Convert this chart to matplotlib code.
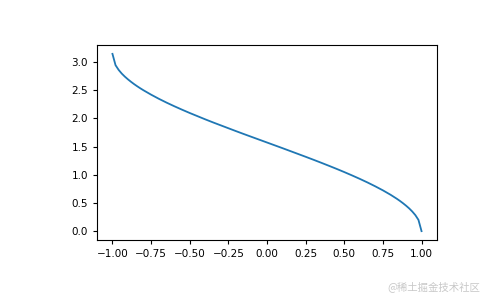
import matplotlib
matplotlib.use("Agg")
import matplotlib.pyplot as plt

# Values
x_vals = [-1.00, -0.98, -0.96, -0.94, -0.92, -0.90, -0.88, -0.86, -0.84, -0.82, -0.80,
          -0.75, -0.70, -0.65, -0.60, -0.55, -0.50, -0.45, -0.40, -0.35, -0.30, -0.25,
          -0.20, -0.15, -0.10, -0.05, 0.00, 0.05, 0.10, 0.15, 0.20, 0.25, 0.30, 0.35,
          0.40, 0.45, 0.50, 0.55, 0.60, 0.65, 0.70, 0.75, 0.80, 0.82, 0.84, 0.86, 0.88,
          0.90, 0.92, 0.94, 0.96, 0.98, 1.00]
y_vals = [3.142, 2.941, 2.858, 2.793, 2.739, 2.691, 2.647, 2.606, 2.568, 2.532, 2.498,
          2.419, 2.346, 2.278, 2.214, 2.153, 2.094, 2.038, 1.982, 1.928, 1.876, 1.824,
          1.772, 1.721, 1.671, 1.621, 1.571, 1.521, 1.471, 1.420, 1.369, 1.318, 1.266,
          1.213, 1.159, 1.104, 1.047, 0.988, 0.927, 0.863, 0.795, 0.723, 0.644, 0.609,
          0.574, 0.536, 0.495, 0.451, 0.403, 0.348, 0.284, 0.200, 0.000]
watermark = "@稀土掘金技术社区"

fig = plt.figure(figsize=(4.85, 3.0), dpi=100)
ax = fig.add_axes([0.2, 0.2, 0.701, 0.65])
ax.plot(x_vals, y_vals, color="#1f77b4", linewidth=1.3)
ax.set_xticks([-1.0, -0.75, -0.5, -0.25, 0.0, 0.25, 0.5, 0.75, 1.0])
ax.set_yticks([0.0, 0.5, 1.0, 1.5, 2.0, 2.5, 3.0])
ax.tick_params(labelsize=7.5, length=3, width=0.8)
for s in ax.spines.values():
    s.set_linewidth(0.8)

fig.text(0.99, 0.025, watermark, ha="right", va="bottom", fontsize=7.5,
         color="#c8c8c8", family=["Noto Sans CJK SC", "DejaVu Sans"])

fig.savefig("out.png", dpi=100)
